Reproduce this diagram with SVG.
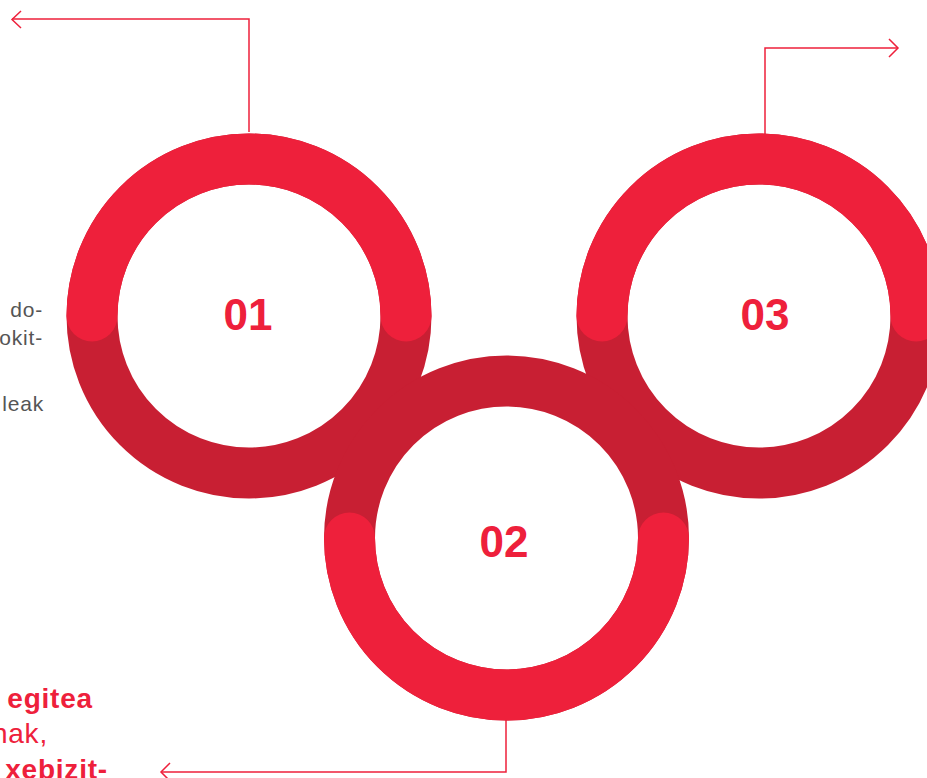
<svg xmlns="http://www.w3.org/2000/svg" width="927" height="778" viewBox="0 0 927 778">
<style>
.dark{fill:none;stroke:#C81F33;stroke-width:51}
.bright{fill:none;stroke:#EE203B;stroke-width:51;stroke-linecap:round}
.num{font-family:"Liberation Sans",Arial,sans-serif;font-weight:bold;font-size:44px;fill:#EE203B;text-anchor:middle}
.conn{fill:none;stroke:#EE203B;stroke-width:1.5}
.grey{font-family:"Liberation Sans",Arial,sans-serif;font-size:21px;letter-spacing:0.8px;fill:#555555;text-anchor:end}
.red{font-family:"Liberation Sans",Arial,sans-serif;font-size:28px;letter-spacing:0.8px;fill:#EE203B;text-anchor:end}
.b{font-weight:bold}
</style>
<rect width="927" height="778" fill="#ffffff"/>
<g id="connectors">
<polyline class="conn" points="249,132 249,19 12,19"/>
<polyline class="conn" points="21,11 12,19.5 21,28"/>
<polyline class="conn" points="765,135 765,48 898,48"/>
<polyline class="conn" points="889,39 898,48 889,57"/>
<polyline class="conn" points="506,720 506,772 161,772"/>
<polyline class="conn" points="170,763 161,772 170,781"/>
</g>
<g id="node-01">
<circle class="dark" cx="249" cy="316" r="157"/>
<path class="bright" d="M92 316 A157 157 0 0 1 406 316"/>
</g>
<g id="node-03">
<circle class="dark" cx="759" cy="316" r="157"/>
<path class="bright" d="M602 316 A157 157 0 0 1 916 316"/>
</g>
<g id="node-02">
<circle class="dark" cx="506.5" cy="538" r="157"/>
<path class="bright" d="M663.5 538 A157 157 0 0 1 349.5 538"/>
</g>
<g id="labels">
<text class="num" x="248" y="330">01</text>
<text class="num" x="504" y="557">02</text>
<text class="num" x="765" y="330">03</text>
</g>
<g id="text-left">
<text class="grey" x="43" y="317">do-</text>
<text class="grey" x="43" y="345">okit-</text>
<text class="grey" x="44" y="411">leak</text>
</g>
<g id="text-bottom">
<text class="red b" x="93" y="708">egitea</text>
<text class="red" x="48" y="743">nak,</text>
<text class="red b" x="108" y="779">xebizit-</text>
</g>
</svg>
